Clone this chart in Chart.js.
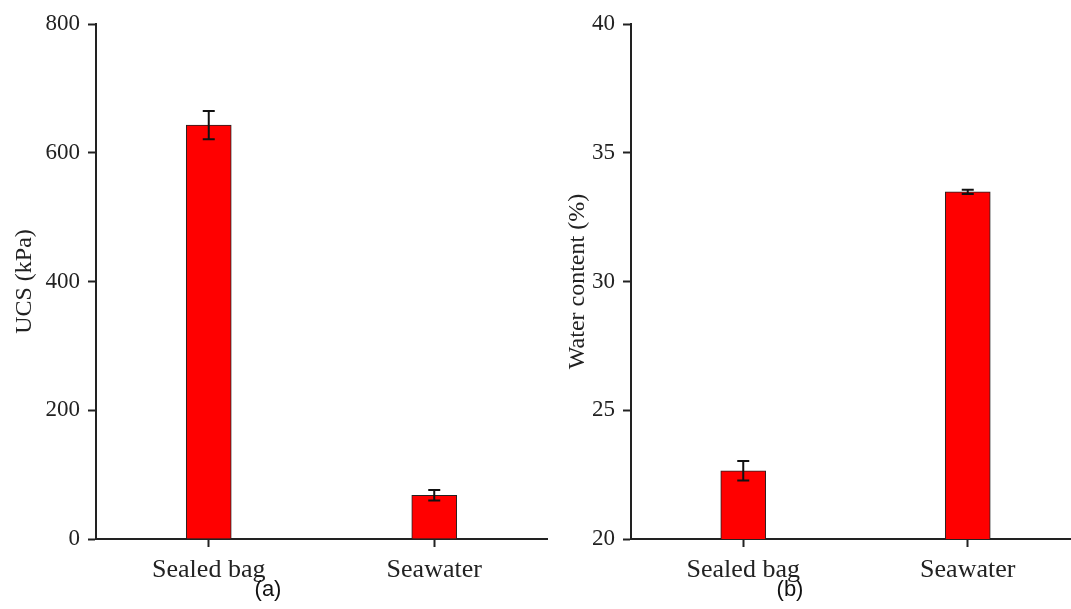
<!DOCTYPE html>
<html lang="en">
<head>
    <meta charset="UTF-8">
    <title>UCS and water content</title>
    <style>
        html, body { margin: 0; padding: 0; background: #fff; overflow: hidden; width: 1071px; height: 609px; }
        .panel { position: absolute; top: 0; height: 609px; }
        #pa { left: 0; width: 560px; }
        #pb { left: 540px; width: 545px; }
        .tag { position: absolute; top: 576px; font-family: "Liberation Sans", Arial, sans-serif; font-size: 22px; color: #111; transform: translateX(-50%); }
    </style>
</head>
<body>
    <div class="panel" id="pa"><canvas id="chartA"></canvas></div>
    <div class="panel" id="pb"><canvas id="chartB"></canvas></div>
    <div class="tag" style="left:268px">(a)</div>
    <div class="tag" style="left:790px">(b)</div>

    <script src="https://cdn.jsdelivr.net/npm/chart.js"></script>
    <script>
    const categories = ['Sealed bag', 'Seawater'];
    const ucs = [643, 68];
    const ucsErr = [22, 8];
    const ucsTicks = [0, 200, 400, 600, 800];
    const water = [22.65, 33.48];
    const waterErr = [0.38, 0.08];
    const waterTicks = [20, 25, 30, 35, 40];

    const serif = '"Liberation Serif", "Times New Roman", serif';

    // draws error bars from dataset.err
    const errorBars = {
        id: 'errorBars',
        afterDatasetsDraw(chart) {
            const ctx = chart.ctx;
            const ys = chart.scales.y;
            const meta = chart.getDatasetMeta(0);
            const ds = chart.data.datasets[0];
            ctx.save();
            ctx.strokeStyle = '#111';
            ctx.lineWidth = 2;
            meta.data.forEach((bar, i) => {
                const v = ds.data[i], e = ds.err[i];
                const top = ys.getPixelForValue(v + e);
                const bot = ys.getPixelForValue(v - e);
                const x = bar.x;
                ctx.beginPath();
                ctx.moveTo(x, top); ctx.lineTo(x, bot);
                ctx.moveTo(x - 6, top); ctx.lineTo(x + 6, top);
                ctx.moveTo(x - 6, bot); ctx.lineTo(x + 6, bot);
                ctx.stroke();
            });
            ctx.restore();
        }
    };

    function makeChart(id, values, errs, ticks, title, yWidth, padRight, titlePad) {
        return new Chart(document.getElementById(id), {
            type: 'bar',
            data: {
                labels: categories,
                datasets: [{
                    data: values,
                    err: errs,
                    backgroundColor: '#ff0000',
                    borderColor: '#222',
                    borderWidth: 1,
                    barThickness: 45
                }]
            },
            options: {
                responsive: true,
                maintainAspectRatio: false,
                animation: false,
                layout: { padding: { top: 24, right: padRight, bottom: 20, left: 0 } },
                plugins: { legend: { display: false }, tooltip: { enabled: false } },
                scales: {
                    x: {
                        grid: { display: true, drawOnChartArea: false, offset: false, tickLength: 8, tickWidth: 2, tickColor: '#222' },
                        border: { display: true, color: '#222', width: 2 },
                        ticks: { color: '#222', font: { family: serif, size: 26 }, padding: 8, maxRotation: 0 },
                        afterFit(s) { s.height = 50; }
                    },
                    y: {
                        min: ticks[0],
                        max: ticks[ticks.length - 1],
                        afterBuildTicks(s) { s.ticks = ticks.map(v => ({ value: v })); },
                        grid: { display: true, drawOnChartArea: false, tickLength: 8, tickWidth: 2, tickColor: '#222' },
                        border: { display: true, color: '#222', width: 2 },
                        ticks: { color: '#222', font: { family: serif, size: 23 }, padding: 8 },
                        title: { display: true, text: title, color: '#222', font: { family: serif, size: 24 }, padding: { top: titlePad, bottom: 0 } },
                        afterFit(s) { s.width = yWidth; }
                    }
                }
            },
            plugins: [errorBars]
        });
    }

    makeChart('chartA', ucs, ucsErr, ucsTicks, 'UCS (kPa)', 96, 13, 10);
    makeChart('chartB', water, waterErr, waterTicks, 'Water content (%)', 91, 5, 23);
    </script>
</body>
</html>
